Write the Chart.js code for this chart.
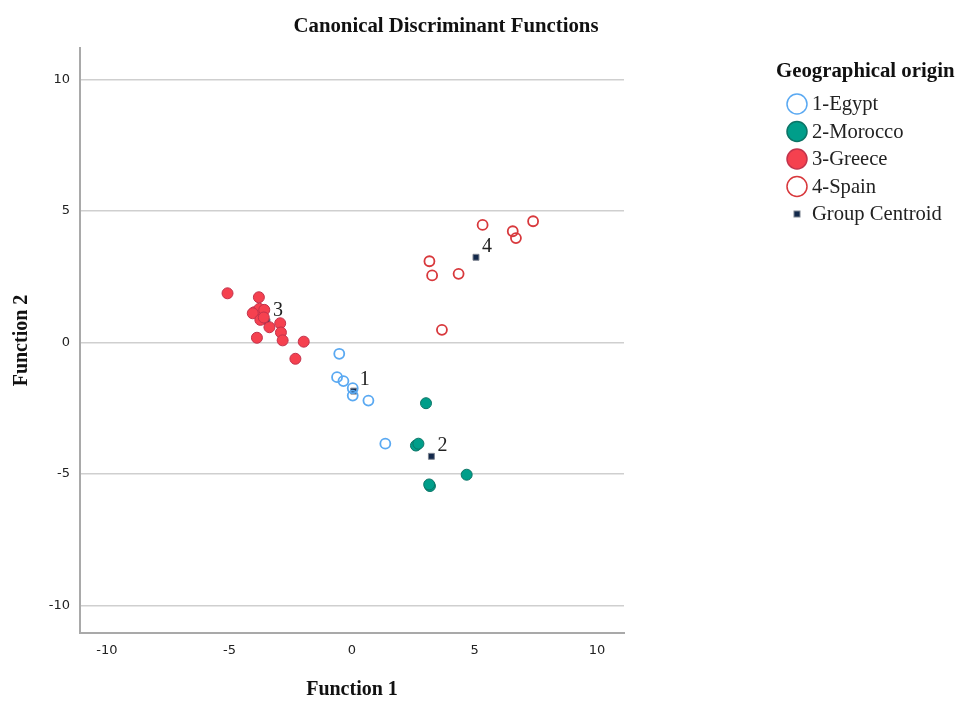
<!DOCTYPE html>
<html>
<head>
<meta charset="utf-8">
<title>Canonical Discriminant Functions</title>
<script src="https://cdn.jsdelivr.net/npm/chart.js@4"></script>
<style>
body { margin: 0; background: #fff; }
</style>
</head>
<body>
<canvas id="chart" width="956" height="702"></canvas>
<script>
// values (Function 1, Function 2)
const egypt = [[-0.52, -0.43], [-0.61, -1.32], [-0.35, -1.47], [0.03, -1.74], [0.03, -2.02], [0.67, -2.21], [1.36, -3.85]];
const morocco = [[3.02, -2.31], [2.61, -3.92], [2.71, -3.85], [4.68, -5.03], [3.18, -5.46], [3.15, -5.40]];
const greece = [[-5.08, 1.87], [-3.80, 1.72], [-3.99, 1.15], [-3.78, 1.28], [-3.58, 1.24], [-4.05, 1.11],
    [-3.74, 0.86], [-3.60, 0.95], [-3.37, 0.58], [-2.93, 0.73], [-2.90, 0.38], [-2.83, 0.08],
    [-3.88, 0.18], [-1.97, 0.03], [-2.31, -0.62]];
const spain = [[5.33, 4.47], [6.56, 4.23], [6.69, 3.97], [7.39, 4.61], [3.16, 3.09], [3.27, 2.55], [4.35, 2.61], [3.67, 0.48]];
const centroids = [[0.07, -1.85], [3.24, -4.33], [-3.47, 0.79], [5.06, 3.24]];
const centroidLabels = ['1', '2', '3', '4'];
const groupNames = ['1-Egypt', '2-Morocco', '3-Greece', '4-Spain', 'Group Centroid'];
const xTicks = [-10, -5, 0, 5, 10];
const yTicks = [-10, -5, 0, 5, 10];

const toXY = arr => arr.map(p => ({ x: p[0], y: p[1] }));
const serif = '"Liberation Serif", "DejaVu Serif", serif';

const extras = {
    id: 'extras',
    afterDatasetsDraw(chart) {
        const ctx = chart.ctx;
        const xs = chart.scales.x, ys = chart.scales.y;
        ctx.save();
        // centroid numbers
        ctx.font = '20px ' + serif;
        ctx.fillStyle = '#222';
        ctx.textBaseline = 'middle';
        ctx.textAlign = 'left';
        centroids.forEach((c, i) => {
            ctx.fillText(centroidLabels[i], xs.getPixelForValue(c[0]) + 6, ys.getPixelForValue(c[1]) - 11);
        });
        // title
        ctx.font = 'bold 20.8px ' + serif;
        ctx.textAlign = 'center';
        ctx.fillStyle = '#111';
        ctx.fillText('Canonical Discriminant Functions', 446, 27);
        // legend
        ctx.textAlign = 'left';
        ctx.fillText('Geographical origin', 776, 72);
        ctx.font = '20.6px ' + serif;
        chart.data.datasets.forEach((ds, i) => {
            const y = 104 + i * 27.5;
            if (i < 4) {
                ctx.beginPath();
                ctx.arc(797, y, 10, 0, Math.PI * 2);
                ctx.fillStyle = ds.backgroundColor;
                ctx.fill();
                ctx.lineWidth = 1.5;
                ctx.strokeStyle = ds.borderColor;
                ctx.stroke();
            } else {
                ctx.fillStyle = ds.backgroundColor;
                ctx.fillRect(794, y - 3, 6, 6);
                ctx.strokeStyle = ds.borderColor;
                ctx.lineWidth = 1;
                ctx.strokeRect(794, y - 3, 6, 6);
            }
            ctx.fillStyle = '#222';
            ctx.fillText(groupNames[i], 812, y + 1);
        });
        ctx.restore();
    }
};

new Chart(document.getElementById('chart'), {
    type: 'scatter',
    data: {
        datasets: [
            { label: groupNames[0], data: toXY(egypt), backgroundColor: 'rgba(255,255,255,0)', borderColor: '#5aa9f2', borderWidth: 1.8, pointRadius: 5 },
            { label: groupNames[1], data: toXY(morocco), backgroundColor: '#009e8a', borderColor: '#0b7466', borderWidth: 1, pointRadius: 5.5 },
            { label: groupNames[2], data: toXY(greece), backgroundColor: '#f5414f', borderColor: '#c2334c', borderWidth: 1, pointRadius: 5.5 },
            { label: groupNames[3], data: toXY(spain), backgroundColor: 'rgba(255,255,255,0)', borderColor: '#d8383c', borderWidth: 1.8, pointRadius: 5 },
            { label: groupNames[4], data: toXY(centroids), backgroundColor: '#13294b', borderColor: '#7d8490', borderWidth: 1, pointStyle: 'rect', pointRadius: 4.2 }
        ]
    },
    options: {
        responsive: false,
        animation: false,
        devicePixelRatio: 1,
        layout: { padding: { left: 0, right: 332, top: 48, bottom: 0 } },
        plugins: { legend: { display: false }, tooltip: { enabled: false } },
        scales: {
            x: {
                type: 'linear', min: -11.1, max: 11.1,
                afterBuildTicks: s => { s.ticks = xTicks.map(v => ({ value: v })); },
                afterFit: s => { s.height = 69; },
                grid: { display: false, drawTicks: false },
                border: { color: '#a9a9a9', width: 2 },
                ticks: { padding: 10, color: '#222', font: { family: '"DejaVu Sans"', size: 13 } },
                title: { display: true, text: 'Function 1', color: '#111', padding: { top: 0, bottom: 0 }, font: { family: serif, size: 20, weight: 'bold' } }
            },
            y: {
                type: 'linear', min: -11.05, max: 11.2,
                afterBuildTicks: s => { s.ticks = yTicks.map(v => ({ value: v })); },
                afterFit: s => { s.width = 80; },
                grid: { color: '#cfcfcf', lineWidth: 1.5, drawTicks: false },
                border: { color: '#a9a9a9', width: 2 },
                ticks: { padding: 10, color: '#222', font: { family: '"DejaVu Sans"', size: 13 } },
                title: { display: true, text: 'Function 2', color: '#111', padding: { top: 10 }, font: { family: serif, size: 20, weight: 'bold' } }
            }
        }
    },
    plugins: [extras]
});
</script>
</body>
</html>
